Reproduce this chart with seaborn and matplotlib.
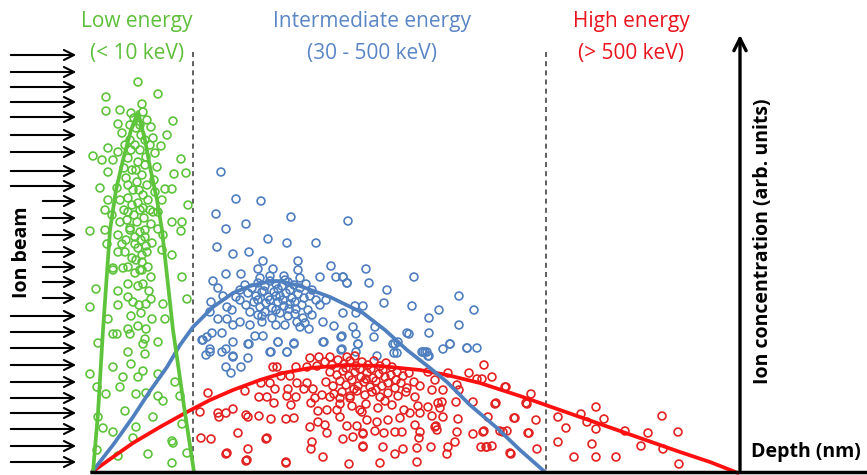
import matplotlib
matplotlib.use("Agg")
import matplotlib.pyplot as plt
import seaborn as sns
import pandas as pd

# schematic drawn in image coordinates (x right, y down)
W, H = 867, 475

GREEN = "#5ec43c"
BLUE = "#4f7fbf"
RED = "#ff1010"
RED_PT = "#e32222"

# ion beam arrows: rows (y) and where each arrow starts
beam_long_y = [55, 72, 87, 102, 117, 135, 152, 171, 186,
               316, 332, 348, 365, 382, 398, 413, 429, 446, 462]
beam_short_y = [201, 218, 235, 252, 267, 282, 298]

# profile curves
green_curve = [(93, 472), (98, 413), (103, 330), (110, 230), (116, 190), (123, 160),
               (131, 130), (138, 112), (145, 140), (150, 167), (157, 200), (162, 230),
               (173, 330), (185, 413), (194, 472)]
blue_curve = [(92, 472), (113, 445), (133, 417), (150, 391), (167, 367), (180, 345),
              (193, 327), (213, 307), (233, 293), (250, 286), (267, 282), (280, 281),
              (300, 286), (330, 297), (363, 313), (385, 330), (407, 350), (430, 368),
              (447, 382), (470, 405), (497, 428), (520, 450), (545, 472)]
red_curve = [(92, 472), (113, 457), (133, 443), (160, 427), (187, 412), (210, 400),
             (233, 390), (260, 380), (283, 373), (310, 368), (347, 365), (380, 366),
             (420, 370), (447, 375), (480, 383), (520, 396), (560, 410), (600, 424),
             (640, 438), (680, 452), (710, 462), (738, 473)]

# implanted ions, low energy
green_pts = [(138, 82), (106, 97), (158, 94), (106, 111), (120, 110), (142, 104), (131, 113),
             (143, 112), (173, 121), (118, 124), (147, 120), (151, 127), (122, 133), (167, 135),
             (153, 138), (108, 148), (161, 146), (93, 156), (102, 160), (113, 160), (118, 152),
             (155, 153), (181, 159), (108, 172), (174, 174), (186, 173), (157, 167), (100, 188),
             (165, 189), (172, 189), (117, 188), (155, 192), (108, 200), (162, 200), (188, 205),
             (105, 210), (112, 215), (128, 212), (143, 208), (153, 212), (158, 212), (120, 222),
             (137, 222), (172, 222), (182, 222), (90, 231), (105, 230), (130, 230), (151, 224),
             (158, 229), (181, 231), (118, 235), (135, 237), (145, 237), (163, 235), (107, 244),
             (122, 244), (135, 244), (152, 243), (172, 255), (118, 252), (125, 252), (142, 255),
             (147, 252), (162, 250), (113, 268), (123, 268), (128, 267), (140, 270), (148, 267),
             (130, 140), (135, 145), (140, 150), (128, 158), (138, 162), (145, 165), (132, 170),
             (142, 175), (126, 178), (137, 182), (147, 185), (133, 190), (143, 195), (128, 198),
             (138, 203), (148, 200), (124, 210), (134, 215), (144, 218), (130, 228), (140, 232),
             (126, 240), (138, 248), (146, 246), (132, 258), (142, 262), (136, 128), (140, 125),
             (130, 125), (145, 140), (125, 145), (150, 145), (136, 170), (128, 185), (140, 210),
             (132, 205), (145, 230), (120, 200), (154, 180), (134, 118), (141, 135), (131, 150),
             (146, 157), (124, 168), (139, 190), (150, 210), (127, 220), (136, 260), (141, 240),
             (113, 270), (135, 273), (142, 270), (151, 277), (182, 277), (96, 289), (118, 291),
             (128, 284), (138, 286), (143, 284), (149, 291), (90, 307), (118, 305), (128, 297),
             (133, 302), (139, 305), (146, 304), (151, 299), (163, 304), (187, 299), (131, 316),
             (141, 313), (108, 319), (152, 319), (165, 319), (128, 329), (138, 326), (146, 329),
             (113, 334), (117, 334), (130, 334), (98, 343), (145, 339), (158, 342), (143, 344),
             (128, 352), (145, 354), (131, 364), (113, 367), (143, 371), (90, 374), (123, 377),
             (138, 377), (158, 374), (97, 387), (120, 387), (175, 382), (106, 394), (136, 394),
             (146, 393), (158, 396), (163, 401), (180, 396), (98, 417), (125, 411), (153, 417),
             (182, 424), (103, 428), (136, 427), (113, 432), (133, 438), (172, 441), (173, 443),
             (97, 450), (118, 456), (148, 454), (187, 453), (172, 463)]

# implanted ions, intermediate energy
blue_pts = [(221, 172), (236, 199), (261, 201), (216, 214), (246, 224), (291, 217), (226, 229),
            (268, 239), (287, 243), (316, 243), (217, 247), (233, 254), (249, 252), (263, 261),
            (298, 261), (331, 266), (226, 274), (241, 274), (258, 269), (273, 269), (298, 270),
            (213, 281), (320, 277), (336, 277), (343, 277), (218, 288), (347, 283), (223, 296),
            (211, 302), (227, 307), (210, 312), (218, 319), (227, 319), (202, 340), (207, 337),
            (212, 333), (222, 333), (233, 342), (249, 344), (255, 336), (263, 336), (278, 342),
            (294, 343), (271, 352), (287, 352), (210, 352), (222, 352), (233, 357), (324, 342),
            (334, 326), (342, 336), (323, 322), (309, 329), (305, 323), (297, 322), (240, 322),
            (250, 325), (233, 325),
            (245, 285), (252, 288), (258, 283), (265, 286), (270, 281), (276, 284), (282, 286),
            (288, 282), (294, 285), (300, 288), (306, 284), (312, 290), (248, 293), (256, 296),
            (262, 292), (268, 297), (274, 292), (280, 296), (286, 293), (292, 298), (298, 294),
            (304, 298), (310, 296), (316, 300), (240, 300), (246, 305), (254, 302), (260, 307),
            (266, 303), (272, 308), (278, 302), (284, 306), (290, 304), (296, 309), (302, 305),
            (308, 310), (320, 305), (250, 312), (258, 315), (265, 312), (272, 318), (280, 313),
            (288, 316), (295, 314), (303, 318), (312, 315), (240, 290), (236, 297), (326, 300),
            (232, 310), (276, 325), (262, 322), (285, 325), (300, 327), (270, 276), (284, 276),
            (260, 278), (300, 278), (278, 289), (290, 290), (264, 291), (283, 300), (270, 300),
            (295, 302), (258, 300), (276, 310), (289, 309), (262, 316), (276, 296), (285, 280),
            (348, 221), (366, 269), (343, 277), (347, 283), (369, 283), (414, 277), (387, 290),
            (459, 296), (355, 306), (363, 306), (384, 303), (412, 306), (343, 313), (356, 313),
            (439, 310), (474, 310), (429, 318), (353, 327), (375, 327), (459, 325), (341, 337),
            (356, 334), (374, 337), (407, 333), (409, 334), (429, 333), (358, 344), (393, 344),
            (398, 342), (450, 344), (443, 349), (467, 348), (477, 348), (342, 349), (356, 352),
            (394, 353), (423, 352), (427, 352), (429, 356), (377, 356),
            (203, 340), (210, 349), (206, 355), (226, 349), (233, 356), (248, 358), (226, 367),
            (241, 367), (231, 373), (248, 344), (270, 352), (278, 342), (287, 352), (294, 344),
            (323, 342), (341, 350), (358, 344), (395, 344), (425, 352), (450, 344), (467, 348),
            (397, 353), (428, 356), (422, 352)]

# implanted ions, high energy
red_pts = [(208, 393), (200, 412), (219, 417), (226, 413), (233, 409), (246, 415), (248, 417),
           (259, 416), (271, 419), (245, 391), (259, 397), (267, 397), (275, 389), (288, 389),
           (287, 396), (296, 397), (274, 403), (291, 405), (286, 419), (294, 418), (261, 383),
           (270, 383), (281, 376), (290, 376), (297, 383), (307, 383), (304, 389), (313, 389),
           (277, 367), (296, 367), (310, 358), (319, 357), (330, 357), (347, 357), (355, 356),
           (307, 367), (317, 366), (201, 438), (211, 439), (238, 433), (266, 439), (226, 454),
           (248, 449), (246, 461), (286, 463), (310, 427), (312, 442), (311, 449), (323, 457),
           (327, 433), (325, 425), (318, 422), (318, 411), (311, 403), (327, 410), (337, 410),
           (340, 417), (347, 426), (343, 439), (353, 437), (349, 464), (363, 446), (363, 434),
           (357, 426), (360, 410), (350, 398), (340, 398), (330, 397), (322, 395), (315, 398),
           (325, 362), (332, 365), (338, 360), (344, 364), (350, 361), (356, 366), (362, 362),
           (368, 365), (374, 361), (380, 366), (386, 363), (392, 367), (330, 372), (337, 375),
           (343, 371), (349, 376), (355, 372), (361, 377), (367, 373), (373, 378), (379, 374),
           (385, 377), (391, 375), (397, 372), (403, 376), (409, 373), (326, 382), (333, 386),
           (340, 381), (346, 385), (352, 380), (358, 386), (364, 382), (370, 387), (376, 381),
           (382, 386), (388, 383), (395, 388), (401, 383), (407, 388), (414, 382), (420, 386),
           (334, 394), (342, 392), (350, 396), (357, 391), (365, 395), (372, 392), (380, 397),
           (388, 393), (398, 396), (406, 392), (415, 397), (340, 404), (352, 406), (366, 404),
           (378, 408), (392, 405), (404, 410), (418, 406), (360, 369), (371, 369), (383, 370),
           (366, 379), (354, 389), (376, 390), (396, 380), (346, 368), (385, 401), (362, 412),
           (484, 365), (469, 373), (492, 377), (448, 373), (477, 379), (457, 385), (459, 390),
           (505, 387), (496, 403), (531, 394), (527, 404), (473, 402), (456, 402), (443, 390),
           (442, 402), (440, 408), (488, 417), (515, 418), (536, 420), (458, 419), (443, 417),
           (435, 427), (437, 430), (457, 432), (473, 434), (484, 431), (500, 431), (507, 431),
           (528, 433), (455, 442), (431, 447), (448, 447), (481, 447), (486, 447), (492, 446),
           (510, 453), (447, 454), (417, 448), (403, 449), (395, 454), (380, 463), (417, 462),
           (363, 447), (383, 447), (384, 433), (395, 432), (402, 432), (420, 432), (419, 438),
           (415, 425), (436, 426), (432, 416), (420, 413), (410, 413), (400, 418), (388, 420),
           (377, 422), (367, 420), (363, 433), (375, 431), (428, 407), (438, 403), (432, 390),
           (435, 380), (428, 372),
           (482, 379), (506, 387), (495, 404), (526, 403), (514, 418), (483, 432), (503, 432),
           (529, 433), (487, 447), (511, 454), (537, 449), (558, 417), (566, 428), (558, 442),
           (581, 414), (587, 422), (596, 407), (604, 419), (596, 429), (592, 444), (625, 431),
           (648, 433), (641, 446), (662, 416), (678, 432), (663, 449), (574, 457), (596, 457),
           (616, 457), (679, 464), (218, 413), (227, 453), (247, 460), (286, 462), (267, 438),
           (273, 367)]

group_labels = [("Low energy", "(< 10 keV)", 137, "#5dbf3a"),
                ("Intermediate energy", "(30 - 500 keV)", 372, "#5b86c5"),
                ("High energy", "(> 500 keV)", 631, "#e8141e")]


def to_df(pts):
    return pd.DataFrame(pts, columns=["x", "y"])


sns.set_style("white")
plt.rcParams["font.family"] = ["Open Sans", "DejaVu Sans"]

fig = plt.figure(figsize=(W / 100, H / 100), dpi=100)
ax = fig.add_axes([0, 0, 1, 1])

for pts, col in [(green_pts, GREEN), (blue_pts, BLUE), (red_pts, RED_PT)]:
    d = to_df(pts)
    sns.scatterplot(data=d, x="x", y="y", ax=ax, s=32, facecolor="none",
                    edgecolor=col, linewidth=1.2, zorder=2)

for curve, col in [(red_curve, RED), (blue_curve, BLUE), (green_curve, GREEN)]:
    d = to_df(curve)
    sns.lineplot(data=d, x="x", y="y", ax=ax, sort=False, estimator=None,
                 color=col, linewidth=2.7, zorder=3)

# energy range separators
for xv in [193, 546]:
    ax.plot([xv, xv], [52, 471], ls=(0, (3, 2.5)), color="#444444", lw=1.2, zorder=1)

# ion beam
arrow_style = dict(arrowstyle="->", lw=1.5, color="black", mutation_scale=18)
for y in beam_long_y:
    ax.annotate("", xy=(79, y), xytext=(8, y), arrowprops=arrow_style)
for y in beam_short_y:
    ax.annotate("", xy=(79, y), xytext=(40, y), arrowprops=arrow_style)
ax.text(22, 252, "Ion beam", rotation=90, ha="center", va="center",
        fontsize=14, fontweight="bold", color="black")

# axes of the schematic
ax.plot([90, 870], [472, 472], color="black", lw=2.5, zorder=4, solid_capstyle="butt")
ax.annotate("", xy=(740, 32), xytext=(740, 473),
            arrowprops=dict(arrowstyle="->", lw=2.4, color="black", mutation_scale=22))
ax.text(763, 241, "Ion concentration (arb. units)", rotation=90, ha="center", va="center",
        fontsize=14, fontweight="bold", color="black")
ax.text(806, 452, "Depth (nm)", ha="center", va="center",
        fontsize=14, fontweight="bold", color="black")

for top, bottom, xc, col in group_labels:
    ax.text(xc, 22, top, ha="center", va="center", fontsize=15, color=col)
    ax.text(xc, 53, bottom, ha="center", va="center", fontsize=15, color=col)

ax.set_xlim(0, W)
ax.set_ylim(H, 0)
ax.set_axis_off()

fig.savefig("out.png", dpi=100)
